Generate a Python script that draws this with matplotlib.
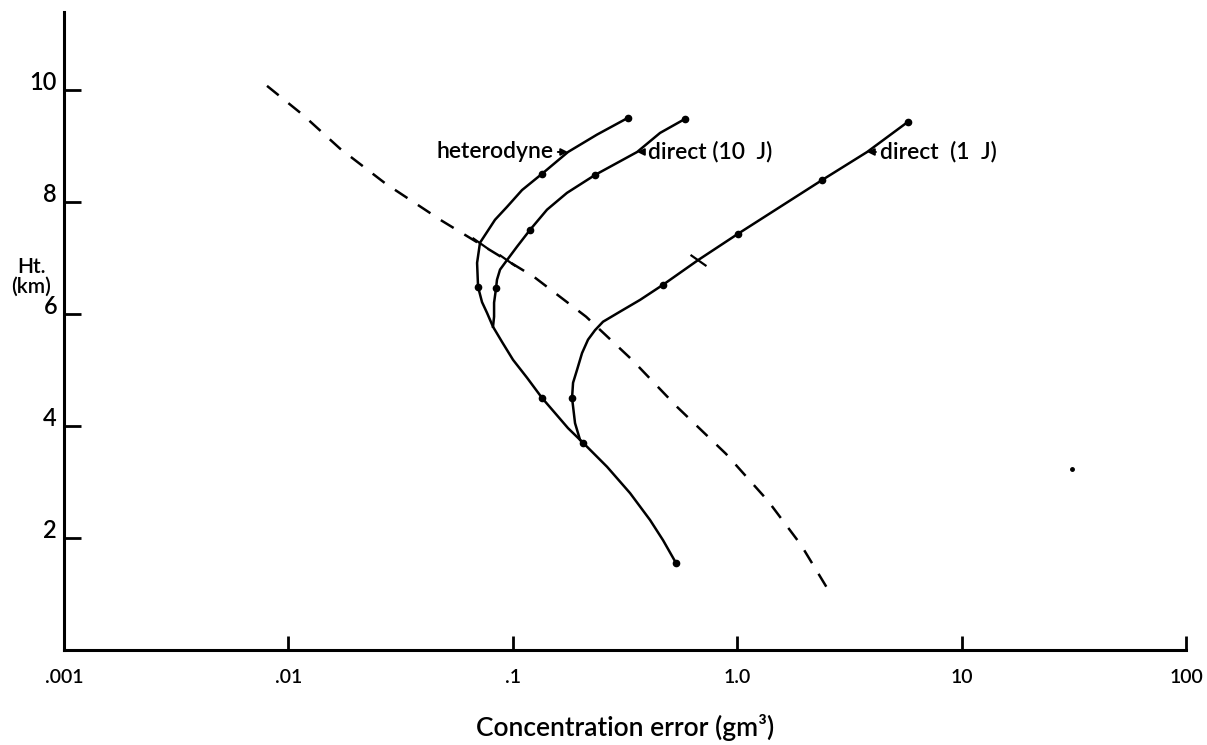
import numpy as np
import matplotlib
matplotlib.use("Agg")
import matplotlib.pyplot as plt
import matplotlib.transforms as mtransforms

plt.rcParams['font.family'] = ['Lato', 'DejaVu Sans']

# heterodyne curve (concentration error in g/m^3, height in km)
het_err = [0.326, 0.2372, 0.1762, 0.1349, 0.1099, 0.0942, 0.0833, 0.0767, 0.0714, 0.0693,
           0.0700, 0.0729, 0.0767, 0.0816, 0.0895, 0.1002, 0.1157, 0.1349, 0.1542, 0.1762,
           0.2055, 0.2630, 0.3330, 0.4088, 0.4670, 0.534]
het_ht = [9.50, 9.20, 8.89, 8.50, 8.21, 7.91, 7.68, 7.46, 7.27, 6.91,
          6.48, 6.21, 6.02, 5.77, 5.50, 5.18, 4.86, 4.50, 4.23, 3.96,
          3.70, 3.27, 2.80, 2.32, 1.96, 1.55]
het_dots = [0, 3, 10, 17, 20, 25]
het_cross = [8]

# direct detection, 10 J
d10_err = [0.585, 0.4529, 0.358, 0.2325, 0.1743, 0.1420, 0.1193, 0.1044, 0.0942, 0.0877,
           0.0850, 0.0842, 0.0825, 0.0825, 0.0816]
d10_ht = [9.48, 9.23, 8.89, 8.48, 8.16, 7.86, 7.50, 7.20, 6.96, 6.79,
          6.61, 6.46, 6.20, 5.95, 5.77]
d10_dots = [0, 3, 6, 11]
d10_cross = [8]

# direct detection, 1 J
d1_err = [5.77, 3.79, 2.39, 1.008, 0.669, 0.467, 0.369, 0.3004, 0.2523, 0.2325,
          0.2163, 0.2034, 0.1932, 0.1855, 0.1836, 0.1893, 0.1993, 0.2055]
d1_ht = [9.43, 8.89, 8.39, 7.43, 6.96, 6.52, 6.25, 6.04, 5.86, 5.71,
         5.54, 5.30, 5.00, 4.77, 4.50, 4.05, 3.75, 3.70]
d1_dots = [0, 2, 3, 5, 14]
d1_cross = [4]

# dashed reference curve
ref_err = [0.00803, 0.01162, 0.01698, 0.02721, 0.04836, 0.1243, 0.2120, 0.3398, 0.5392,
           0.8915, 1.372, 1.924, 2.513]
ref_ht = [10.07, 9.55, 8.95, 8.32, 7.66, 6.66, 5.95, 5.18, 4.34,
          3.50, 2.66, 1.875, 1.107]

xticks = [0.001, 0.01, 0.1, 1.0, 10, 100]
xticklabels = ['.001', '.01', '.1', '1.0', '10', '100']
yticks = [2, 4, 6, 8, 10]

fig = plt.figure(figsize=(12.07, 7.45), dpi=100)
ax = fig.add_axes([0.053, 0.1275, 0.9297, 0.8565])

lw = 1.8
for err, ht, dots, cross in [(het_err, het_ht, het_dots, het_cross),
                             (d10_err, d10_ht, d10_dots, d10_cross),
                             (d1_err, d1_ht, d1_dots, d1_cross)]:
    err = np.array(err)
    ht = np.array(ht)
    ax.plot(err, ht, color='black', lw=lw, solid_joinstyle='round')
    ax.plot(err[dots], ht[dots], 'o', color='black', ms=4.5)
    ax.plot(err[cross], ht[cross], marker=(2, 0, 55), color='black', ms=14, mew=1.6, ls='none')

ax.plot(ref_err, ref_ht, color='black', lw=1.8, dashes=(6, 5))

# stray speck on the page
ax.plot([31.0], [3.23], 'o', color='black', ms=2.5)

txt = dict(fontsize=16.5, fontweight='semibold', va='center')
arrow = dict(arrowstyle='-|>', color='black', lw=1.4, mutation_scale=10, shrinkA=1, shrinkB=0)
ax.annotate('heterodyne', xy=(0.176, 8.89), xytext=(0.152, 8.89), ha='right',
            arrowprops=arrow, **txt)
ax.annotate('direct (10  J)', xy=(0.358, 8.89), xytext=(0.40, 8.89), ha='left',
            arrowprops=arrow, **txt)
ax.annotate('direct  (1  J)', xy=(3.79, 8.89), xytext=(4.33, 8.89), ha='left',
            arrowprops=arrow, **txt)

ax.set_xscale('log')
ax.set_xlim(0.001, 100)
ax.set_ylim(0, 11.39)
ax.set_xticks(xticks)
ax.set_xticklabels(xticklabels, fontweight='semibold')
ax.minorticks_off()
ax.set_yticks(yticks)
ax.set_yticklabels([str(v) for v in yticks], fontweight='semibold')
for v, lbl in zip(yticks, ax.get_yticklabels()):
    lbl.set_va('baseline')
    if v == 6:
        # the 6 sits a little lower, below the axis title
        lbl.set_transform(lbl.get_transform() +
                          mtransforms.ScaledTranslation(0, -8 / 100, fig.dpi_scale_trans))

ax.tick_params(axis='x', direction='in', length=10, width=2, labelsize=14, pad=14)
ax.tick_params(axis='y', direction='in', length=12, width=2, labelsize=17, pad=5)
for side in ['top', 'right']:
    ax.spines[side].set_visible(False)
for side in ['left', 'bottom']:
    ax.spines[side].set_linewidth(2.2)

ax.set_xlabel('Concentration error (gm³)', fontsize=19, fontweight='semibold', labelpad=20)
fig.text(0.026, 1 - 277 / 745, 'Ht.\n(km)', ha='center', va='center', fontsize=15,
         fontweight='semibold', linespacing=1.0)

fig.savefig('out.png', dpi=100)
